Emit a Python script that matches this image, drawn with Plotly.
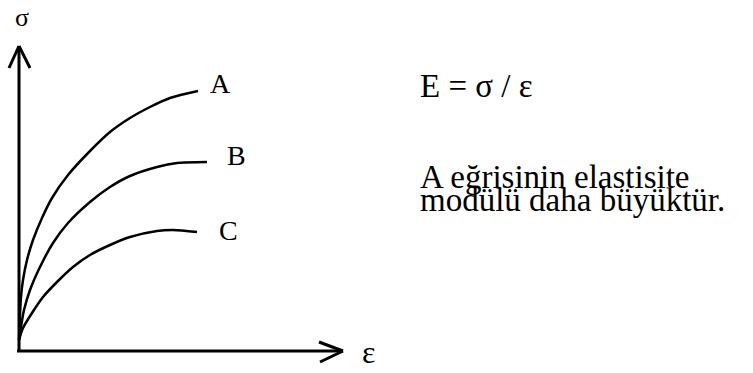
import plotly.graph_objects as go

# curve samples (strain, stress in arbitrary units)
eps_a = [0, 1, 2, 4, 8, 14, 23, 33, 49, 71, 91, 111, 131, 151, 179]
sig_a = [11, 36, 54, 71, 91, 111, 133, 153, 176, 200, 219, 233, 244, 253, 260]
eps_b = [0, 2, 5, 11, 21, 34, 49, 71, 91, 111, 138, 158, 188]
sig_b = [11, 24, 41, 61, 84, 108, 128, 149, 164, 175, 184, 188, 189]
eps_c = [0, 4, 13, 24, 38, 54, 71, 91, 111, 138, 154, 178]
sig_c = [11, 23, 38, 54, 69, 84, 96, 106, 114, 120, 121, 119]

curve_names = ['A', 'B', 'C']
eps_axis_max = 324
sig_axis_max = 305

FONT = 'Liberation Serif'
LW = 2.5

fig = go.Figure()
for name, xs, ys in zip(curve_names, [eps_a, eps_b, eps_c], [sig_a, sig_b, sig_c]):
    fig.add_trace(go.Scatter(x=xs, y=ys, mode='lines', name=name,
                             line=dict(color='black', width=LW, shape='spline', smoothing=0.8),
                             hoverinfo='skip', showlegend=False))

# axes with open arrow heads
ax = dict(type='line', xref='x', yref='y', line=dict(color='black', width=3))
shapes = [
    dict(ax, x0=-2, y0=0, x1=eps_axis_max, y1=0),
    dict(ax, x0=0, y0=-1, x1=0, y1=sig_axis_max),
    dict(ax, x0=eps_axis_max, y0=0, x1=eps_axis_max - 24, y1=9),
    dict(ax, x0=eps_axis_max, y0=0, x1=eps_axis_max - 23, y1=-11),
    dict(ax, x0=0, y0=sig_axis_max, x1=-10, y1=sig_axis_max - 22),
    dict(ax, x0=0, y0=sig_axis_max, x1=11, y1=sig_axis_max - 22),
]

annotations = [
    dict(x=201, y=268, text='A', font=dict(size=28)),
    dict(x=217, y=196, text='B', font=dict(size=28)),
    dict(x=209, y=121, text='C', font=dict(size=28)),
    dict(x=3, y=334, text='σ', font=dict(size=26)),
    dict(x=349, y=-1, text='ε', font=dict(size=32)),
    dict(x=399, y=265, text='E = σ / ε', xanchor='left', font=dict(size=33)),
    dict(x=399, y=174, text='A eğrisinin elastisite', xanchor='left', font=dict(size=33)),
    dict(x=399, y=151, text='modülü daha büyüktür.', xanchor='left', font=dict(size=33)),
]
for a in annotations:
    a.update(xref='x', yref='y', showarrow=False)
    a.setdefault('xanchor', 'center')
    a['yanchor'] = 'middle'
    a['font'].update(family=FONT, color='black')

fig.update_layout(
    width=753, height=373,
    margin=dict(l=0, r=0, t=0, b=0),
    paper_bgcolor='white', plot_bgcolor='white',
    xaxis=dict(range=[-19, 734], visible=False, fixedrange=True),
    yaxis=dict(range=[-22, 351], visible=False, fixedrange=True),
    shapes=shapes,
    annotations=annotations,
)

fig.write_html("out.html", config={'displayModeBar': False},
               post_script="document.body.style.margin='0';")
